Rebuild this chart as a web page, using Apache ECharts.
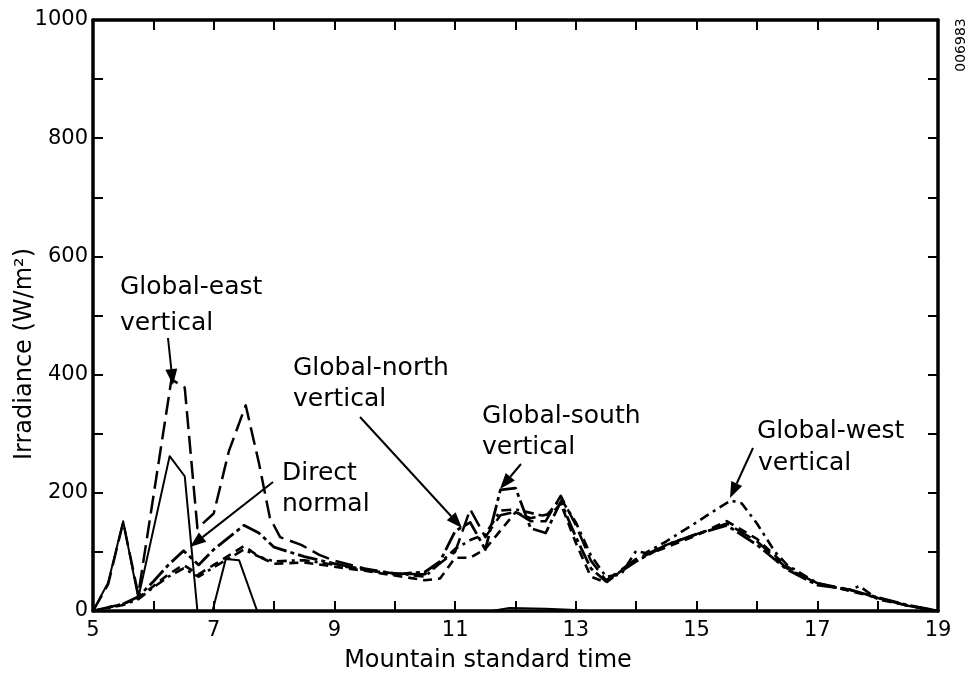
<!DOCTYPE html>
<html><head><meta charset="utf-8">
<script src="https://cdn.jsdelivr.net/npm/echarts@6.0.0/dist/echarts.min.js"></script>
<style>html,body{margin:0;padding:0;background:#fff}#c{width:968px;height:675px}</style>
</head><body><div id="c"></div>
<script>
// ---- data (hours, W/m2) ----
const dnX = [5, 5.25, 5.5, 5.75, 6.27, 6.52, 6.73, 6.98, 7.2, 7.42, 7.72, 8, 11.6, 11.9, 12.5, 12.9, 13.2, 19];
const dnY = [0, 48, 152, 22, 262, 228, 0, 0, 88, 86, 0, 0, 0, 5, 4, 2, 0, 0];

const eastX = [5, 5.25, 5.5, 5.75, 6.3, 6.52, 6.73, 7.0, 7.25, 7.53, 7.75, 7.93, 8.1, 8.45, 8.75, 9, 9.5, 10, 10.5, 11, 11.25, 11.5, 11.75, 12, 12.25, 12.5, 12.75, 13, 13.25, 13.5, 14, 14.5, 15, 15.5, 16, 16.5, 17, 17.5, 18, 18.5, 19];
const eastY = [0, 45, 150, 28, 392, 378, 140, 165, 270, 348, 250, 158, 125, 112, 95, 85, 72, 63, 62, 100, 172, 125, 162, 168, 152, 152, 195, 145, 85, 52, 88, 112, 130, 148, 118, 72, 47, 37, 22, 9, 0];

const northX = [5, 5.5, 5.75, 6, 6.25, 6.5, 6.75, 7, 7.5, 7.75, 8, 8.5, 9, 9.5, 10, 10.5, 10.75, 11, 11.25, 11.5, 12, 12.25, 12.6, 12.75, 13, 13.25, 13.5, 14, 14.5, 15, 15.5, 16, 16.5, 17, 17.5, 18, 18.5, 19];
const northY = [0, 12, 22, 42, 62, 78, 62, 78, 110, 92, 80, 82, 75, 68, 60, 52, 55, 90, 90, 105, 167, 157, 165, 182, 115, 58, 48, 88, 108, 128, 152, 122, 75, 47, 35, 22, 9, 0];

const southX = [5, 5.5, 5.75, 6, 6.25, 6.5, 6.75, 7, 7.5, 7.75, 8, 8.5, 9, 9.5, 10, 10.5, 10.75, 11, 11.25, 11.5, 11.75, 12, 12.25, 12.5, 12.75, 13, 13.25, 13.5, 14, 14.5, 15, 15.5, 16, 16.5, 17, 17.5, 18, 18.5, 19];
const southY = [0, 12, 24, 50, 78, 102, 78, 104, 145, 132, 108, 92, 80, 70, 62, 66, 84, 135, 150, 104, 205, 208, 140, 132, 185, 125, 72, 50, 84, 112, 130, 145, 112, 70, 44, 37, 23, 10, 0];

const westX = [5, 5.5, 5.75, 6, 6.25, 6.5, 6.75, 7, 7.5, 7.75, 8, 8.5, 9, 9.5, 10, 10.5, 11, 11.25, 11.5, 11.75, 12, 12.5, 12.75, 13, 13.25, 13.5, 13.75, 14, 14.15, 14.5, 15, 15.3, 15.57, 15.75, 16, 16.3, 16.5, 17, 17.5, 17.7, 18, 18.5, 19];
const westY = [0, 10, 20, 40, 58, 72, 58, 74, 104, 92, 84, 86, 78, 70, 64, 58, 105, 120, 130, 170, 172, 160, 190, 150, 94, 58, 62, 102, 98, 118, 150, 170, 187, 182, 148, 100, 78, 47, 35, 42, 20, 9, 0];

const xMin = 5, xMax = 19, xStep = 1;
const yMin = 0, yMax = 1000, yStep = 100;

// ---- chart ----
const FONT = 'DejaVu Sans';
const zip = (xs, ys) => xs.map((x, i) => [x, ys[i]]);
const chart = echarts.init(document.getElementById('c'), null, {renderer: 'canvas'});

function mkSeries(name, xs, ys, width, dash) {
  return {
    name, type: 'line', data: zip(xs, ys), showSymbol: false, symbol: 'none',
    xAxisIndex: 0, yAxisIndex: 0, smooth: false,
    lineStyle: {color: '#000', width, type: dash, cap: 'butt', join: 'round'},
    emphasis: {disabled: true}, z: 3
  };
}

const axisLine = {show: true, onZero: false, lineStyle: {color: '#000', width: 3.5}};
const tick = {show: true, inside: true, length: 10, lineStyle: {color: '#000', width: 2}};
const lblStyle = {color: '#000', fontFamily: FONT, fontSize: 21};

function arrow(x1, y1, x2, y2) {
  const a = Math.atan2(y2 - y1, x2 - x1), L = 16, W = 6;
  const c = Math.cos(a), s = Math.sin(a);
  const bx = x2 - L * c, by = y2 - L * s;
  return [
    {type: 'line', shape: {x1, y1, x2: bx, y2: by}, style: {stroke: '#000', lineWidth: 2}, z: 10},
    {type: 'polygon', shape: {points: [[x2, y2], [bx + W * s, by - W * c], [bx - W * s, by + W * c]]},
     style: {fill: '#000'}, z: 10}
  ];
}
function txt(t, x, y, size, extra) {
  return Object.assign({type: 'text', x, y, z: 10,
    style: {text: t, fill: '#000', font: size + 'px "' + FONT + '"', textVerticalAlign: 'middle'}}, extra || {});
}

const graphics = [
  txt('Global-east', 120, 287, 25), txt('vertical', 120, 323, 25),
  txt('Direct', 282, 473, 25), txt('normal', 282, 504, 25),
  txt('Global-north', 293, 368, 25), txt('vertical', 293, 399, 25),
  txt('Global-south', 482, 416, 25), txt('vertical', 482, 447, 25),
  txt('Global-west', 757, 431, 25), txt('vertical', 758, 463, 25),
  ...arrow(168, 338, 173, 385),
  ...arrow(273, 482, 190, 547),
  ...arrow(360, 417, 462, 528),
  ...arrow(521, 464, 500, 489),
  ...arrow(753, 448, 730, 498),
  // axis titles
  {type: 'text', x: 488, y: 661, z: 10,
   style: {text: 'Mountain standard time', fill: '#000', font: '24px "' + FONT + '"', textAlign: 'center', textVerticalAlign: 'middle'}},
  {type: 'text', x: 25, y: 354, rotation: Math.PI / 2, z: 10,
   style: {text: 'Irradiance (W/m²)', fill: '#000', font: '24px "' + FONT + '"', textAlign: 'center', textVerticalAlign: 'middle'}},
  {type: 'text', x: 961, y: 45, rotation: Math.PI / 2, z: 10,
   style: {text: '006983', fill: '#000', font: '14px "' + FONT + '"', textAlign: 'center', textVerticalAlign: 'middle'}}
];

chart.setOption({
  animation: false,
  backgroundColor: '#fff',
  grid: {left: 93, right: 30, top: 20, bottom: 64, containLabel: false},
  xAxis: [
    {type: 'value', position: 'bottom', min: xMin, max: xMax, interval: xStep,
     axisLine, axisTick: tick, splitLine: {show: false},
     axisLabel: Object.assign({margin: 9, formatter: v => (Math.round(v) % 2 === 1 ? String(v) : '')}, lblStyle)},
    {type: 'value', position: 'top', min: xMin, max: xMax, interval: xStep,
     axisLine, axisTick: tick, splitLine: {show: false}, axisLabel: {show: false}}
  ],
  yAxis: [
    {type: 'value', position: 'left', min: yMin, max: yMax, interval: yStep,
     axisLine, axisTick: tick, splitLine: {show: false},
     axisLabel: Object.assign({margin: 5, formatter: v => (v % 200 === 0 ? String(v) : '')}, lblStyle)},
    {type: 'value', position: 'right', min: yMin, max: yMax, interval: yStep,
     axisLine, axisTick: tick, splitLine: {show: false}, axisLabel: {show: false}}
  ],
  series: [
    mkSeries('Direct normal', dnX, dnY, 2, 'solid'),
    mkSeries('Global-east vertical', eastX, eastY, 2.5, [18, 7]),
    mkSeries('Global-north vertical', northX, northY, 2.6, [9, 6]),
    mkSeries('Global-south vertical', southX, southY, 2.8, [20, 4, 4, 4]),
    mkSeries('Global-west vertical', westX, westY, 2.6, [10, 5, 3, 5])
  ],
  graphic: graphics
});
</script>
</body></html>
